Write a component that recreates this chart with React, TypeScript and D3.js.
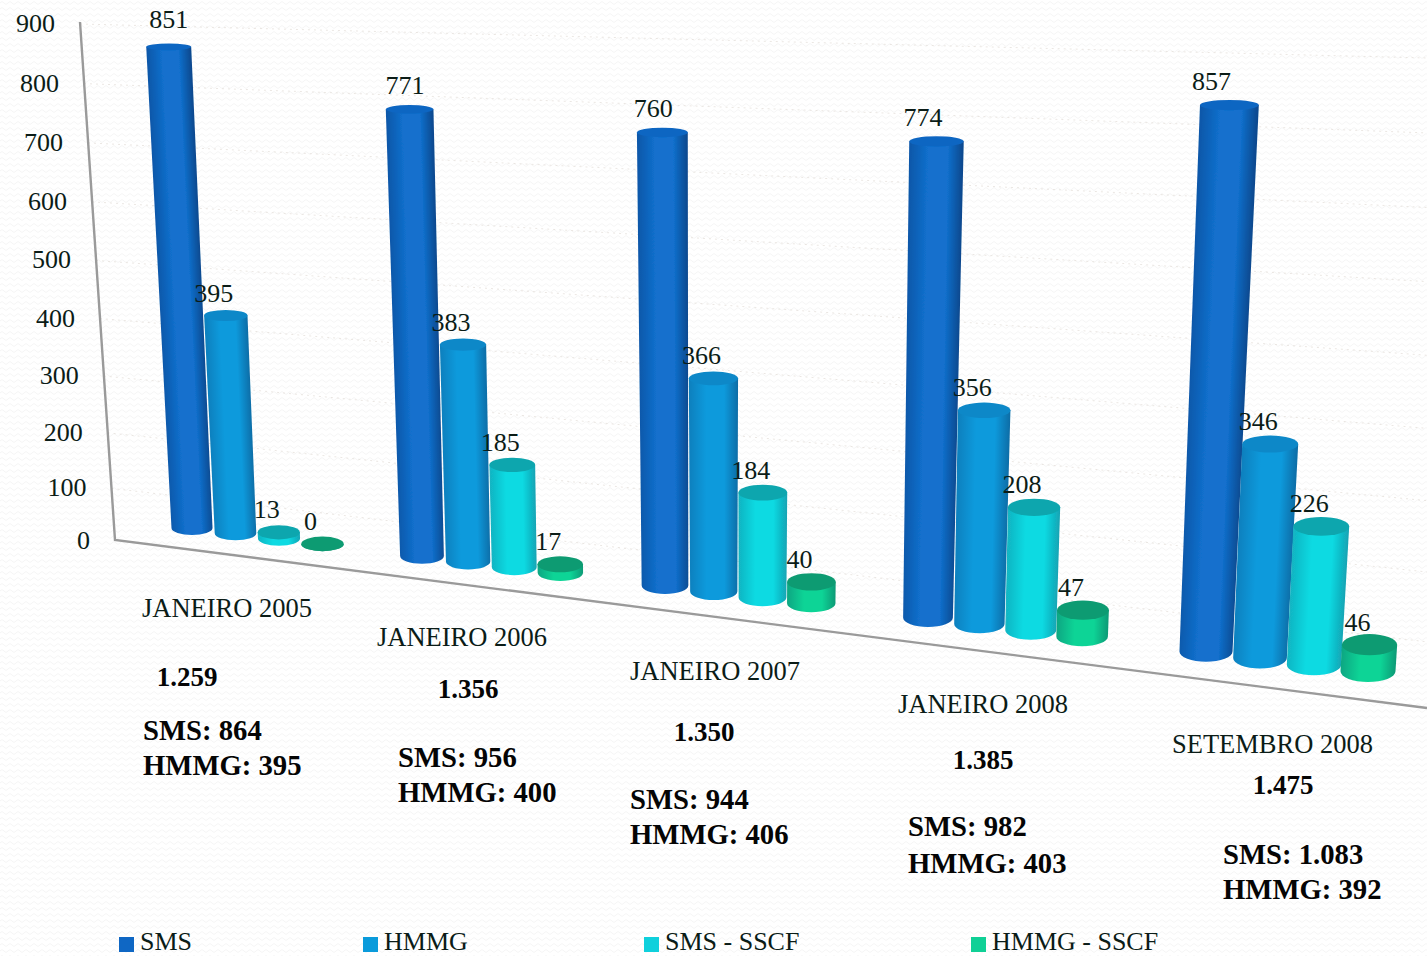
import React from 'react';
import * as d3 from 'd3';

const series = ['SMS', 'HMMG', 'SMS - SSCF', 'HMMG - SSCF'];
const categories = ['JANEIRO 2005', 'JANEIRO 2006', 'JANEIRO 2007', 'JANEIRO 2008', 'SETEMBRO 2008'];
const smsValues = [851, 771, 760, 774, 857];
const hmmgValues = [395, 383, 366, 356, 346];
const smsSscfValues = [13, 185, 184, 208, 226];
const hmmgSscfValues = [0, 17, 40, 47, 46];
const totals = ['1.259', '1.356', '1.350', '1.385', '1.475'];
const smsTotals = ['864', '956', '944', '982', '1.083'];
const hmmgTotals = ['395', '400', '406', '403', '392'];
const ticks = [0, 100, 200, 300, 400, 500, 600, 700, 800, 900];

const allValues = [smsValues, hmmgValues, smsSscfValues, hmmgSscfValues];

// layout of the free text under the floor, one entry per category
const catLayout = [[142, 617], [377, 646], [630, 680], [898, 713], [1172, 753]];
const totalLayout = [[187, 686], [468, 698], [704, 741], [983, 769], [1283, 794]];
const smsLayout = [[143, 740], [398, 767], [630, 809], [908, 836], [1223, 864]];
const hmmgLayout = [[143, 775], [398, 802], [630, 844], [908, 873], [1223, 899]];
const legendX = [119, 363, 644, 971];

const colours = [
  { left: '#0d58aa', right: '#0a4a90', mid: '#1270cd', top: '#1066c2', key: '#0f67c4' },
  { left: '#0a80be', right: '#0a6ea8', mid: '#0a9adc', top: '#0c88c8', key: '#0a9bdb' },
  { left: '#12b4c2', right: '#13a4b4', mid: '#0ddae2', top: '#10a6ae', key: '#0fd0dc' },
  { left: '#0ea682', right: '#0e9a76', mid: '#0fd496', top: '#0f9b72', key: '#10d096' },
];

const textColour = '#0b1c17';
const serif = '"Liberation Serif", serif';

// the picture is a perspective view, so height and x both depend on where the bar stands
const frac = d3.scalePow().exponent(1.04).domain([0, 900]).range([0, 1]);
const groupX = d3.scaleLinear().domain([0, 1, 2, 3, 4]).range([192, 422, 665, 928, 1206]);
const slot = d3.scaleLinear().domain([0, 4]).range([43.5, 54]);
const floorY = d3.scaleLinear().domain([192, 1366]).range([528, 671]);
const span = d3.scaleLinear().domain([192, 1206]).range([510, 575]);
const barW = d3.scaleLinear().domain([190, 1370]).range([41, 55]);
const flat = d3.scaleLinear().domain([40, 690]).range([0.075, 0.2]);
const vanishX = 730;
const lean = 9e-5;

const axisY = d3.scaleLinear().domain([0, 1]).range([541, 24]);
const axisX = d3.scaleLinear().domain([0, 1]).range([115, 80]);

const bars = categories.flatMap((_, g) =>
  series.map((_s, i) => {
    const v = allValues[i][g];
    const bx = groupX(g) + i * slot(g);
    const by = floorY(bx);
    const h = frac(v) * span(bx);
    const tx = bx + (bx - vanishX) * lean * h;
    const ty = by - h;
    const w = barW(bx);
    const wTop = w * (1 + h * 0.0002);
    return { id: `bar-${g}-${i}`, g, v, i, bx, by, tx, ty, w, wTop, h };
  })
);

const wave = 'M0 3 Q2 0 4 3 T8 3';

// value labels sit left of the top of the bar, tall bars further so towards the right
const labelDx = (b: any) => (b.i === 0 ? -4.5 * b.g : -12);
const labelDy = (b: any) => (b.i === 0 ? (b.g === 0 ? -19 : -15) : -14);

export default function App() {
  return (
    <svg
      width={1427}
      height={956}
      style={{ position: 'absolute', left: 0, top: 0, display: 'block', background: '#fff' }}
      fontFamily={serif}
    >
      <defs>
        <pattern id="paper" width={8} height={6} patternUnits="userSpaceOnUse">
          <path d={wave} fill="none" stroke="#f5f5f5" strokeWidth={1} />
        </pattern>
        <filter id="soft" x="-10%" y="-10%" width="120%" height="120%">
          <feGaussianBlur stdDeviation={0.6} />
        </filter>
        {bars.map((b) => {
          const len = Math.hypot(b.tx - b.bx, b.ty - b.by) || 1;
          const nx = (b.by - b.ty) / len;
          const ny = (b.tx - b.bx) / len;
          const mx = (b.tx + b.bx) / 2;
          const my = (b.ty + b.by) / 2;
          const r = (b.w + b.wTop) / 4;
          return (
            <linearGradient
              key={b.id}
              id={b.id}
              gradientUnits="userSpaceOnUse"
              x1={mx - nx * r}
              y1={my - ny * r}
              x2={mx + nx * r}
              y2={my + ny * r}
            >
              <stop offset="0%" stopColor={colours[b.i].left} />
              <stop offset="35%" stopColor={colours[b.i].mid} />
              <stop offset="72%" stopColor={colours[b.i].mid} />
              <stop offset="100%" stopColor={colours[b.i].right} />
            </linearGradient>
          );
        })}
      </defs>
      <rect width={1427} height={956} fill="url(#paper)" />

      {/* faint gridlines */}
      {ticks.map((t) => (
        <line
          key={t}
          x1={axisX(frac(t))}
          y1={axisY(frac(t))}
          x2={1427}
          y2={708 - frac(t) * 650}
          stroke="#e6e1dc"
          strokeWidth={1}
          strokeDasharray="2 4"
          opacity={t === 0 ? 0 : 0.8}
        />
      ))}

      {/* axis and floor */}
      <path
        d={`M${axisX(1)} 22 L${axisX(0)} 540 L1427 708`}
        fill="none"
        stroke="#9a9a9a"
        strokeWidth={2.4}
        filter="url(#soft)"
      />

      {ticks.map((t) => (
        <text
          key={t}
          x={axisX(frac(t)) - 25}
          y={axisY(frac(t)) + 8}
          textAnchor="end"
          fontSize={26}
          fill={textColour}
        >
          {t}
        </text>
      ))}

      {/* cylinders */}
      <g filter="url(#soft)">
        {bars.map((b) => {
          const rb = b.w / 2;
          const rt = b.wTop / 2;
          const ryB = b.w * flat(b.by);
          const ryT = b.wTop * flat(b.ty);
          const d =
            `M${b.bx - rb} ${b.by} L${b.tx - rt} ${b.ty} L${b.tx + rt} ${b.ty} L${b.bx + rb} ${b.by} ` +
            `A${rb} ${ryB} 0 0 1 ${b.bx - rb} ${b.by} Z`;
          return (
            <g key={b.id}>
              <path d={d} fill={`url(#${b.id})`} />
              <ellipse cx={b.tx} cy={b.ty} rx={rt} ry={ryT} fill={colours[b.i].top} />
            </g>
          );
        })}
      </g>

      {/* value labels */}
      {bars.map((b) => (
        <text
          key={b.id}
          x={b.tx + labelDx(b)}
          y={b.ty + labelDy(b)}
          textAnchor="middle"
          fontSize={26}
          fill={textColour}
        >
          {b.v}
        </text>
      ))}

      {categories.map((c, g) => (
        <g key={c}>
          <text x={catLayout[g][0]} y={catLayout[g][1]} fontSize={26.5} fill={textColour}>
            {c}
          </text>
          <text
            x={totalLayout[g][0]}
            y={totalLayout[g][1]}
            textAnchor="middle"
            fontSize={27}
            fontWeight="bold"
            fill="#050505"
          >
            {totals[g]}
          </text>
          <text x={smsLayout[g][0]} y={smsLayout[g][1]} fontSize={28.7} fontWeight="bold" fill="#050505">
            SMS: {smsTotals[g]}
          </text>
          <text x={hmmgLayout[g][0]} y={hmmgLayout[g][1]} fontSize={28.7} fontWeight="bold" fill="#050505">
            HMMG: {hmmgTotals[g]}
          </text>
        </g>
      ))}

      {/* legend */}
      {series.map((s, i) => (
        <g key={s}>
          <rect x={legendX[i]} y={937} width={15} height={15} fill={colours[i].key} />
          <text x={legendX[i] + 21} y={950} fontSize={26} fill={textColour}>
            {s}
          </text>
        </g>
      ))}
    </svg>
  );
}
